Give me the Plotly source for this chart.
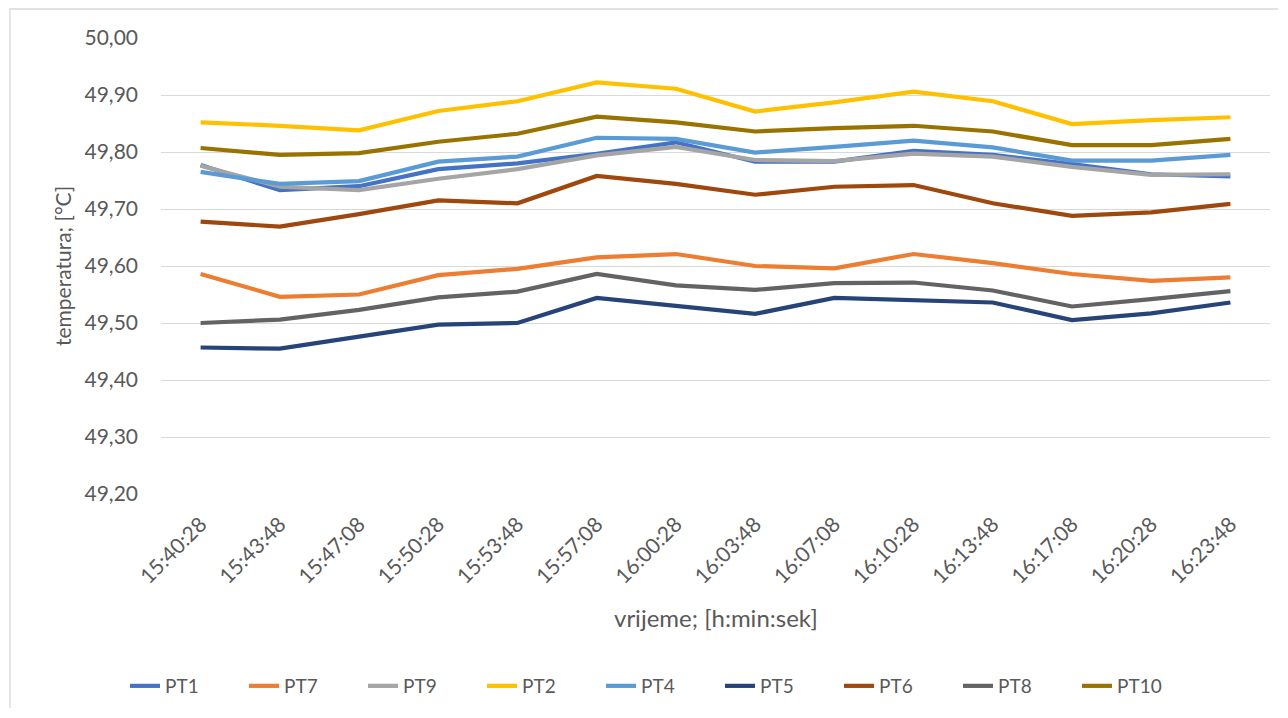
import plotly.graph_objects as go

times = ["15:40:28", "15:43:48", "15:47:08", "15:50:28", "15:53:48", "15:57:08", "16:00:28",
         "16:03:48", "16:07:08", "16:10:28", "16:13:48", "16:17:08", "16:20:28", "16:23:48"]

PT1 = [49.777, 49.733, 49.740, 49.770, 49.780, 49.797, 49.817, 49.783, 49.783, 49.802, 49.795, 49.779, 49.761, 49.757]
PT7 = [49.586, 49.546, 49.550, 49.584, 49.595, 49.615, 49.621, 49.600, 49.596, 49.621, 49.605, 49.586, 49.574, 49.580]
PT9 = [49.776, 49.739, 49.733, 49.753, 49.770, 49.794, 49.809, 49.786, 49.784, 49.797, 49.792, 49.774, 49.760, 49.761]
PT2 = [49.852, 49.846, 49.838, 49.872, 49.889, 49.922, 49.911, 49.871, 49.887, 49.906, 49.889, 49.849, 49.856, 49.861]
PT4 = [49.765, 49.744, 49.749, 49.783, 49.792, 49.825, 49.823, 49.799, 49.809, 49.820, 49.808, 49.785, 49.785, 49.795]
PT5 = [49.457, 49.455, 49.476, 49.497, 49.500, 49.544, 49.530, 49.516, 49.544, 49.540, 49.536, 49.505, 49.517, 49.536]
PT6 = [49.678, 49.669, 49.691, 49.715, 49.710, 49.758, 49.744, 49.725, 49.739, 49.742, 49.710, 49.688, 49.694, 49.709]
PT8 = [49.500, 49.506, 49.523, 49.545, 49.555, 49.586, 49.566, 49.558, 49.570, 49.571, 49.557, 49.529, 49.542, 49.556]
PT10 = [49.807, 49.795, 49.798, 49.818, 49.832, 49.862, 49.852, 49.836, 49.842, 49.846, 49.836, 49.812, 49.812, 49.823]

series = [
    ("PT1", PT1, "#4472C4"),
    ("PT7", PT7, "#ED7D31"),
    ("PT9", PT9, "#A5A5A5"),
    ("PT2", PT2, "#FFC000"),
    ("PT4", PT4, "#5B9BD5"),
    ("PT5", PT5, "#264478"),
    ("PT6", PT6, "#9E480E"),
    ("PT8", PT8, "#636363"),
    ("PT10", PT10, "#997300"),
]

FONT = "Lato, Open Sans, sans-serif"
TXT = "#595959"

fig = go.Figure()
for name, vals, col in series:
    fig.add_trace(go.Scatter(x=times, y=vals, name=name, mode="lines",
                             line=dict(color=col, width=4.2, shape="linear")))

# page coordinates (the html body has an 8px margin)
OFF = 8
W, H = 1270, 700
PL, PR, PT_, PB = 161, 1270, 38, 494   # plot area in page pixels
L, T = PL - OFF, PT_ - OFF
R = W - (PR - OFF)
B = H - (PB - OFF)
pw, ph = PR - PL, PB - PT_

def px(x):
    return (x - PL) / pw

def py(y):
    return (PB - y) / ph

fig.update_layout(
    width=W, height=H,
    margin=dict(l=L, r=R, t=T, b=B, autoexpand=False),
    paper_bgcolor="white", plot_bgcolor="white",
    separators=",.",
    font=dict(family=FONT, color=TXT, size=18),
    showlegend=True,
    legend=dict(orientation="h", x=px(125), xanchor="left", y=py(686), yanchor="middle",
                font=dict(size=19, color=TXT, family=FONT),
                entrywidth=74, entrywidthmode="pixels",
                bgcolor="rgba(0,0,0,0)", traceorder="normal"),
    xaxis=dict(type="category", range=[-0.5, len(times) - 0.5], tickangle=-45,
               showgrid=False, showline=False, ticks="",
               tickfont=dict(size=21, color=TXT, family=FONT),
               ticklabelstandoff=13, zeroline=False),
    yaxis=dict(range=[49.2, 50.0], dtick=0.1, tick0=49.2, tickformat=".2f",
               showgrid=True, gridcolor="#D9D9D9", gridwidth=1.3,
               showline=False, zeroline=False, ticks="",
               tickfont=dict(size=21, color=TXT, family=FONT),
               ticklabelstandoff=22),
    annotations=[
        dict(text="vrijeme; [h:min:sek]", xref="paper", yref="paper",
             x=0.5, y=py(617), xanchor="center", yanchor="middle", showarrow=False,
             font=dict(size=24, color=TXT, family=FONT)),
        dict(text="temperatura; [°C]", xref="paper", yref="paper",
             x=px(62), y=py(266), xanchor="center", yanchor="middle", showarrow=False,
             textangle=-90, font=dict(size=21, color=TXT, family=FONT)),
    ],
    shapes=[
        dict(type="rect", xref="paper", yref="paper",
             x0=px(10), x1=px(1300), y0=py(730), y1=py(9),
             line=dict(color="#D9D9D9", width=1.3), fillcolor="rgba(0,0,0,0)", layer="below"),
    ],
)

fig.write_html("out.html")
